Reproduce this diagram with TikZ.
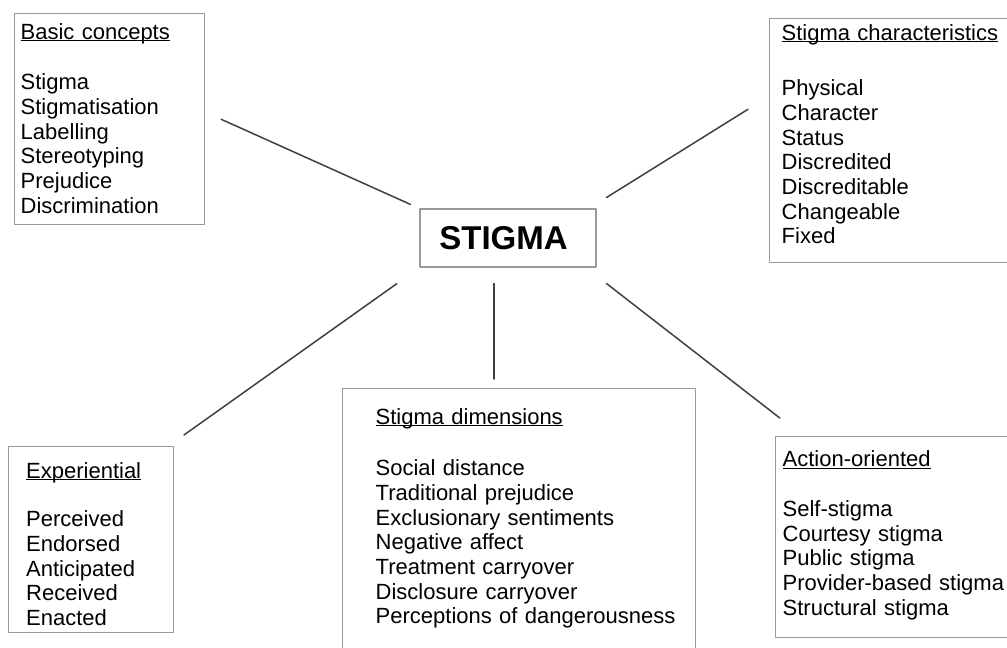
\documentclass[tikz,border=0pt]{standalone}
\usepackage{fontspec}
\usepackage{xcolor}
\usepackage{tikz}
\setmainfont{Liberation Sans}
\usetikzlibrary{calc}
\definecolor{sqsqsq}{rgb}{0.25,0.25,0.25}
\definecolor{aaaaaa}{rgb}{0.6,0.6,0.6}
\tikzstyle{box}=[draw=aaaaaa,line width=1.1pt,inner sep=0pt,anchor=north west]
\tikzstyle{entries}=[anchor=base west,inner sep=0pt,text width=330pt,align=left,font=\fontsize{22}{24.7}\selectfont]
\tikzstyle{link}=[line width=1.5pt,color=sqsqsq]
\newcommand{\heading}[1]{\underline{\smash{#1}}}

\begin{document}
\begin{tikzpicture}[line cap=round,line join=round,x=1pt,y=-1pt]
\useasboundingbox (0,0) rectangle (1007,648);
% boxes
\node [box,minimum width=190pt,minimum height=211pt] (basic) at (14,13) {};
\node [box,minimum width=246pt,minimum height=244pt] (traits) at (769,18) {};
\node [box,minimum width=176pt,minimum height=58pt,anchor=center,font=\fontsize{33}{36}\selectfont\bfseries] (stigma) at (508,238) {STIGMA\hspace*{9pt}};
\node [box,minimum width=165pt,minimum height=186pt] (exper) at (8,446) {};
\node [box,minimum width=353pt,minimum height=272pt] (dims) at (342,388) {};
\node [box,minimum width=240pt,minimum height=201pt] (action) at (775,436) {};
% texts
\node [entries] (basictext) at (20.5,39) {\heading{Basic concepts}\\[26pt] Stigma\\ Stigmatisation\\ Labelling\\ Stereotyping\\ Prejudice\\ Discrimination};
\node [entries] (traitstext) at (781.5,40) {\heading{Stigma characteristics}\\[31pt] Physical\\ Character\\ Status\\ Discredited\\ Discreditable\\ Changeable\\ Fixed};
\node [entries] (expertext) at (26,478) {\heading{Experiential}\\[24pt] Perceived\\ Endorsed\\ Anticipated\\ Received\\ Enacted};
\node [entries] (dimstext) at (375.5,424) {\heading{Stigma dimensions}\\[27pt] Social distance\\ Traditional prejudice\\ Exclusionary sentiments\\ Negative affect\\ Treatment carryover\\ Disclosure carryover\\ Perceptions of dangerousness};
\node [entries] (actiontext) at (782.5,466.7) {\heading{Action-oriented}\\[25pt] Self-stigma\\ Courtesy stigma\\ Public stigma\\ Provider-based stigma\\ Structural stigma};
% links
\draw [link,shorten <=17.7pt,shorten >=9.9pt] ($(basic.north east)!0.467!(basic.south east)$) -- (stigma.north west);
\draw [link,shorten <=20.7pt,shorten >=24.8pt] ($(stigma.north west)!0.957!(stigma.north east)$) -- ($(traits.north west)!0.319!(traits.south west)$);
\draw [link,shorten <=19.1pt,shorten >=27.7pt] ($(exper.north west)!0.966!(exper.north east)$) -- (stigma.south west);
\draw [link,shorten <=16pt,shorten >=9pt] ($(stigma.south west)!0.42!(stigma.south east)$) coordinate (down) -- (down |- dims.north);
\draw [link,shorten <=26pt,shorten >=29.4pt] ($(stigma.south west)!0.94!(stigma.south east)$) -- ($(action.north west)+(28,0)$);
\end{tikzpicture}
\end{document}
